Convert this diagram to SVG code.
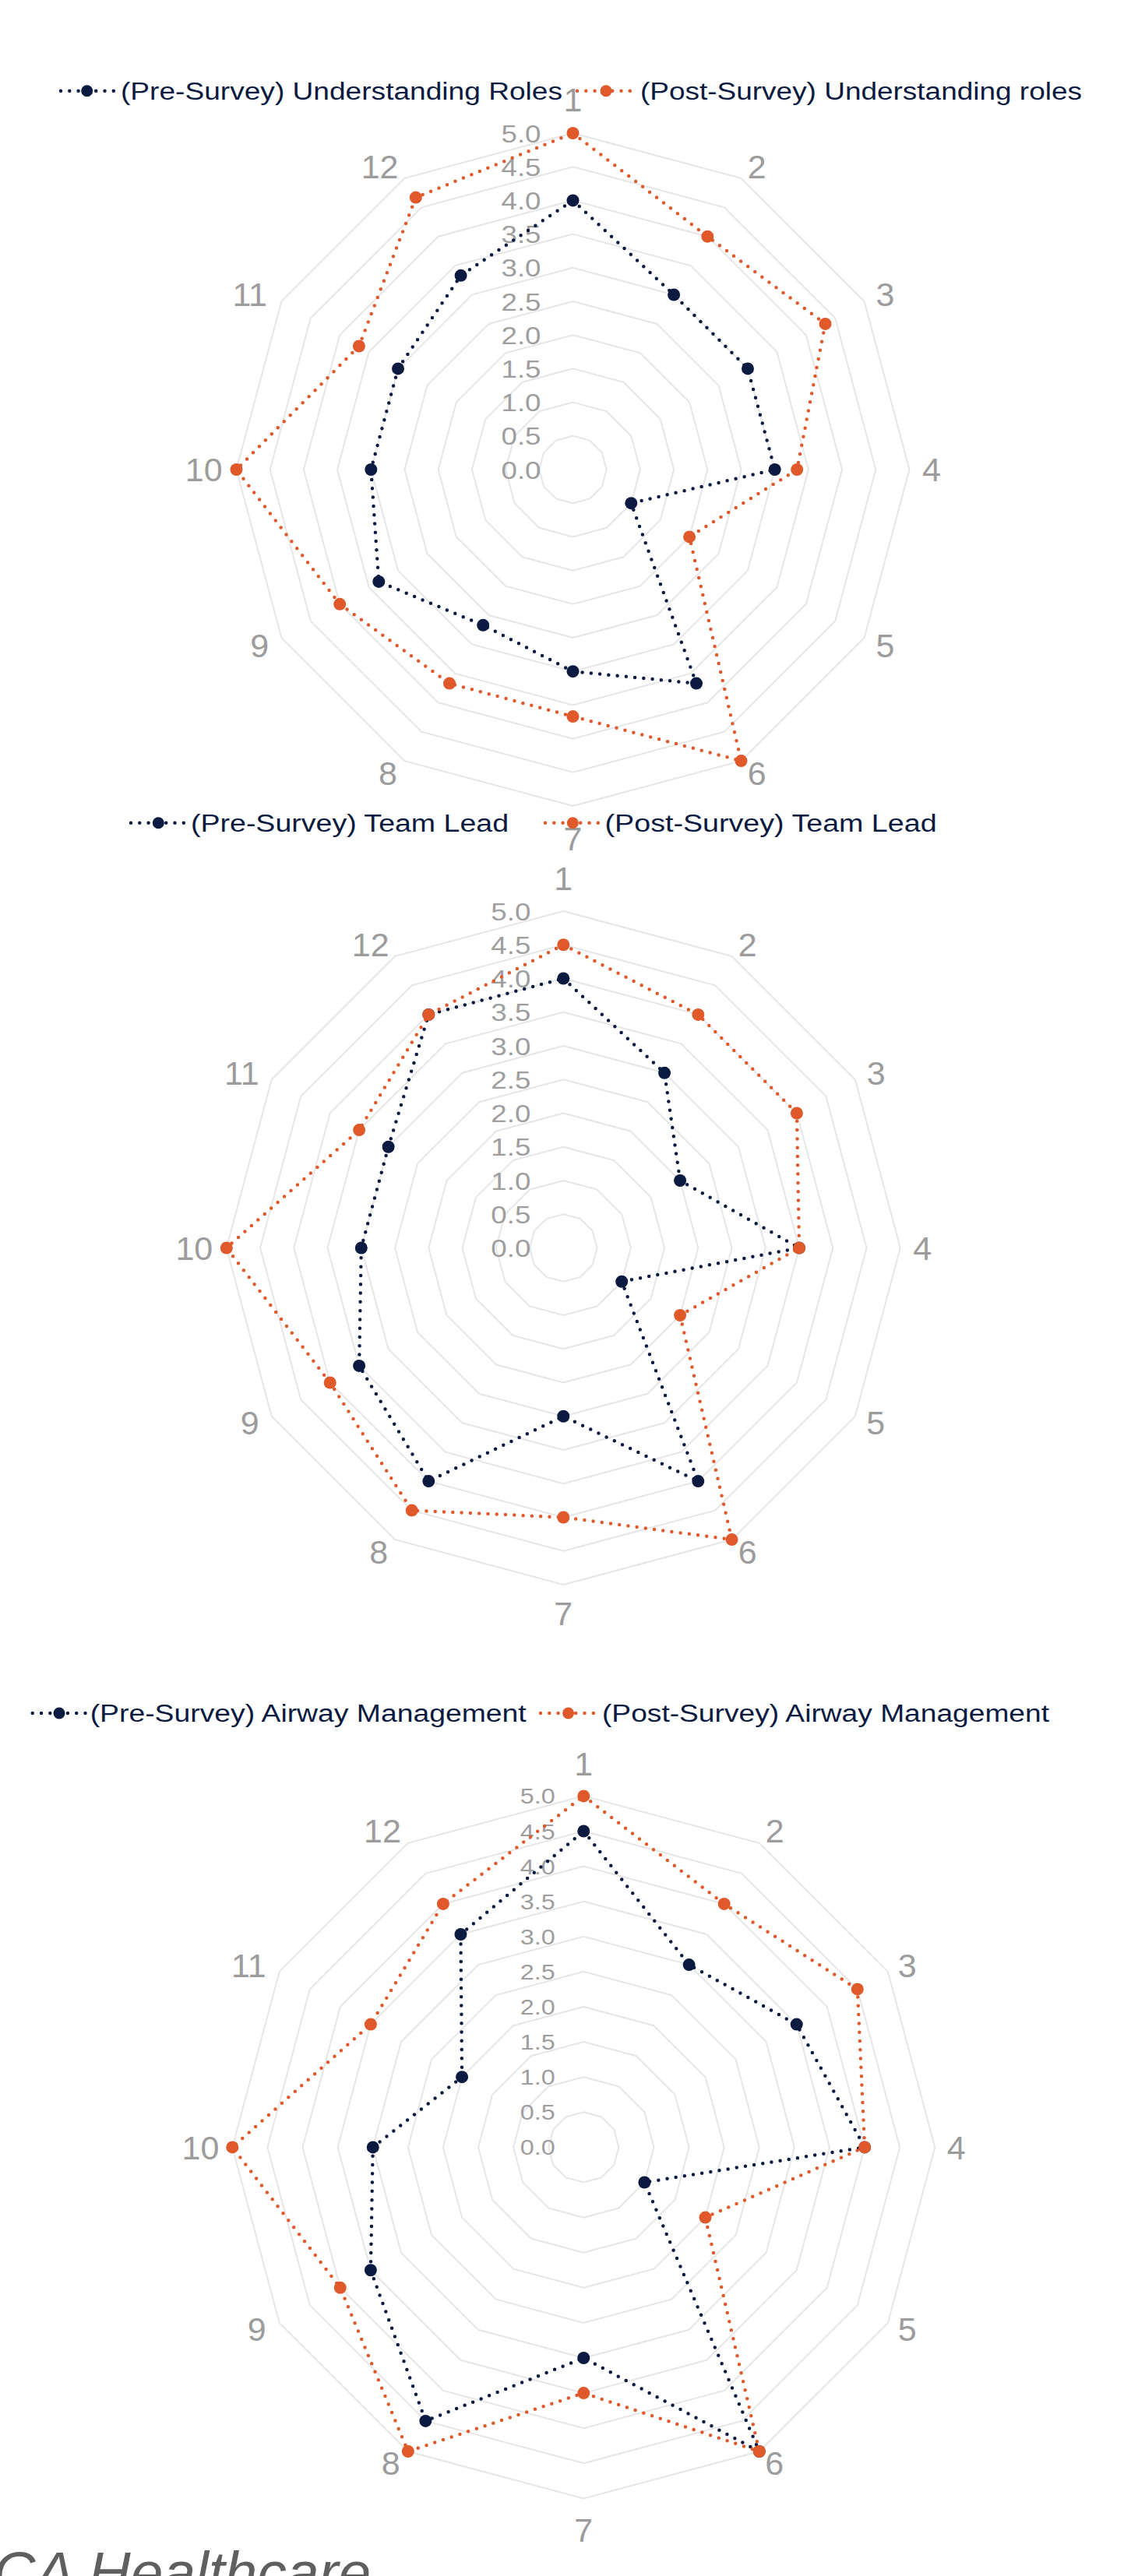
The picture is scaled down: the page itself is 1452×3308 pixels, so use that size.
<svg xmlns="http://www.w3.org/2000/svg" xmlns:xlink="http://www.w3.org/1999/xlink" width="1452" height="3308" viewBox="0 0 1452 3308">
<style>
.grid{fill:none;stroke:#e6e6e6}
.tick{font-family:"Liberation Sans",Arial,sans-serif;fill:#9e9e9e;text-anchor:end}
.t12{font-size:32px}
.t3{font-size:28px}
.ang{font-family:"Liberation Sans",Arial,sans-serif;font-size:43px;fill:#9c9c9c;text-anchor:middle}
.pre{fill:none;stroke:#0b1a40;stroke-width:4.5;stroke-dasharray:0 11.3;stroke-linecap:round;stroke-linejoin:round}
.post{fill:none;stroke:#e0592a;stroke-width:4.5;stroke-dasharray:0 11.3;stroke-linecap:round;stroke-linejoin:round}
.mpre{fill:#0b1a40}
.mpost{fill:#e0592a}
.leg{font-family:"Liberation Sans",Arial,sans-serif;font-size:31px;fill:#0b1a40}
.foot{font-family:"Liberation Sans",Arial,sans-serif;font-size:75px;font-style:italic;fill:#5f5f5f}
</style>
<defs>
<polygon id="g12" points="0,-100 50,-86.603 86.603,-50 100,0 86.603,50 50,86.603 0,100 -50,86.603 -86.603,50 -100,0 -86.603,-50 -50,-86.603"/>
</defs>
<rect width="1452" height="3308" fill="#ffffff"/>

<!-- Chart 1 -->
<g id="chart1" transform="translate(735.5,603)">
<g class="grid">
<use xlink:href="#g12" transform="scale(0.432)" stroke-width="4.63"/>
<use xlink:href="#g12" transform="scale(0.864)" stroke-width="2.315"/>
<use xlink:href="#g12" transform="scale(1.296)" stroke-width="1.543"/>
<use xlink:href="#g12" transform="scale(1.728)" stroke-width="1.157"/>
<use xlink:href="#g12" transform="scale(2.16)" stroke-width="0.926"/>
<use xlink:href="#g12" transform="scale(2.592)" stroke-width="0.772"/>
<use xlink:href="#g12" transform="scale(3.024)" stroke-width="0.661"/>
<use xlink:href="#g12" transform="scale(3.456)" stroke-width="0.579"/>
<use xlink:href="#g12" transform="scale(3.888)" stroke-width="0.514"/>
<use xlink:href="#g12" transform="scale(4.32)" stroke-width="0.463"/>
</g>
<g class="tick t12">
<text x="-41" y="11.5" textLength="51" lengthAdjust="spacingAndGlyphs">0.0</text>
<text x="-41" y="-31.7" textLength="51" lengthAdjust="spacingAndGlyphs">0.5</text>
<text x="-41" y="-74.9" textLength="51" lengthAdjust="spacingAndGlyphs">1.0</text>
<text x="-41" y="-118.1" textLength="51" lengthAdjust="spacingAndGlyphs">1.5</text>
<text x="-41" y="-161.3" textLength="51" lengthAdjust="spacingAndGlyphs">2.0</text>
<text x="-41" y="-204.5" textLength="51" lengthAdjust="spacingAndGlyphs">2.5</text>
<text x="-41" y="-247.7" textLength="51" lengthAdjust="spacingAndGlyphs">3.0</text>
<text x="-41" y="-290.9" textLength="51" lengthAdjust="spacingAndGlyphs">3.5</text>
<text x="-41" y="-334.1" textLength="51" lengthAdjust="spacingAndGlyphs">4.0</text>
<text x="-41" y="-377.3" textLength="51" lengthAdjust="spacingAndGlyphs">4.5</text>
<text x="-41" y="-420.5" textLength="51" lengthAdjust="spacingAndGlyphs">5.0</text>
</g>
<g class="ang">
<text x="0" y="-460.5">1</text>
<text x="236.2" y="-373.6">2</text>
<text x="401" y="-210">3</text>
<text x="460.5" y="15.4">4</text>
<text x="401" y="241.4">5</text>
<text x="236.2" y="405.1">6</text>
<text x="0" y="489.4">7</text>
<text x="-237.5" y="405.1">8</text>
<text x="-402.2" y="241.4">9</text>
<text x="-473.8" y="15.4">10</text>
<text x="-414.8" y="-210">11</text>
<text x="-247.9" y="-373.6">12</text>
</g>
<g id="c1-pre">
<polygon class="pre" points="0,-345.6 129.6,-224.5 224.5,-129.6 259.2,0 74.8,43.2 158.5,274.6 0,259.2 -115.3,199.8 -249.2,143.9 -259.2,0 -224.5,-129.6 -143.9,-249.2"/>
<g class="mpre">
<circle cx="0" cy="-345.6" r="8"/><circle cx="129.6" cy="-224.5" r="8"/><circle cx="224.5" cy="-129.6" r="8"/><circle cx="259.2" cy="0" r="8"/><circle cx="74.8" cy="43.2" r="8"/><circle cx="158.5" cy="274.6" r="8"/><circle cx="0" cy="259.2" r="8"/><circle cx="-115.3" cy="199.8" r="8"/><circle cx="-249.2" cy="143.9" r="8"/><circle cx="-259.2" cy="0" r="8"/><circle cx="-224.5" cy="-129.6" r="8"/><circle cx="-143.9" cy="-249.2" r="8"/>
</g>
</g>
<g id="c1-post">
<polygon class="post" points="0,-432 172.8,-299.3 324,-187.1 287.7,0 149.6,86.4 216,374.1 0,317.1 -158.5,274.6 -299.3,172.8 -432,0 -274.6,-158.5 -201.7,-349.4"/>
<g class="mpost">
<circle cx="0" cy="-432" r="8"/><circle cx="172.8" cy="-299.3" r="8"/><circle cx="324" cy="-187.1" r="8"/><circle cx="287.7" cy="0" r="8"/><circle cx="149.6" cy="86.4" r="8"/><circle cx="216" cy="374.1" r="8"/><circle cx="0" cy="317.1" r="8"/><circle cx="-158.5" cy="274.6" r="8"/><circle cx="-299.3" cy="172.8" r="8"/><circle cx="-432" cy="0" r="8"/><circle cx="-274.6" cy="-158.5" r="8"/><circle cx="-201.7" cy="-349.4" r="8"/>
</g>
</g>
</g>

<!-- Chart 2 -->
<g id="chart2" transform="translate(723.3,1602.5)">
<g class="grid">
<use xlink:href="#g12" transform="scale(0.4325)" stroke-width="4.624"/>
<use xlink:href="#g12" transform="scale(0.865)" stroke-width="2.312"/>
<use xlink:href="#g12" transform="scale(1.2975)" stroke-width="1.541"/>
<use xlink:href="#g12" transform="scale(1.73)" stroke-width="1.156"/>
<use xlink:href="#g12" transform="scale(2.1625)" stroke-width="0.925"/>
<use xlink:href="#g12" transform="scale(2.595)" stroke-width="0.771"/>
<use xlink:href="#g12" transform="scale(3.0275)" stroke-width="0.661"/>
<use xlink:href="#g12" transform="scale(3.46)" stroke-width="0.578"/>
<use xlink:href="#g12" transform="scale(3.8925)" stroke-width="0.514"/>
<use xlink:href="#g12" transform="scale(4.325)" stroke-width="0.462"/>
</g>
<g class="tick t12">
<text x="-42" y="11.5" textLength="51" lengthAdjust="spacingAndGlyphs">0.0</text>
<text x="-42" y="-31.75" textLength="51" lengthAdjust="spacingAndGlyphs">0.5</text>
<text x="-42" y="-75" textLength="51" lengthAdjust="spacingAndGlyphs">1.0</text>
<text x="-42" y="-118.25" textLength="51" lengthAdjust="spacingAndGlyphs">1.5</text>
<text x="-42" y="-161.5" textLength="51" lengthAdjust="spacingAndGlyphs">2.0</text>
<text x="-42" y="-204.75" textLength="51" lengthAdjust="spacingAndGlyphs">2.5</text>
<text x="-42" y="-248" textLength="51" lengthAdjust="spacingAndGlyphs">3.0</text>
<text x="-42" y="-291.25" textLength="51" lengthAdjust="spacingAndGlyphs">3.5</text>
<text x="-42" y="-334.5" textLength="51" lengthAdjust="spacingAndGlyphs">4.0</text>
<text x="-42" y="-377.75" textLength="51" lengthAdjust="spacingAndGlyphs">4.5</text>
<text x="-42" y="-421" textLength="51" lengthAdjust="spacingAndGlyphs">5.0</text>
</g>
<g class="ang">
<text x="0" y="-460">1</text>
<text x="236.4" y="-374.6">2</text>
<text x="401.3" y="-209.1">3</text>
<text x="460.9" y="15.4">4</text>
<text x="401" y="239.9">5</text>
<text x="236.4" y="405.2">6</text>
<text x="0" y="484.2">7</text>
<text x="-237" y="405.2">8</text>
<text x="-402.6" y="239.9">9</text>
<text x="-474" y="15.4">10</text>
<text x="-413" y="-209.1">11</text>
<text x="-247.6" y="-374.6">12</text>
</g>
<g id="c2-pre">
<polygon class="pre" points="0,-346 129.75,-224.7 149.8,-86.5 302.75,0 74.9,43.25 173,299.6 0,216.25 -173,299.6 -262.2,151.4 -259.5,0 -224.7,-129.75 -173,-299.6"/>
<g class="mpre">
<circle cx="0" cy="-346" r="8"/><circle cx="129.75" cy="-224.7" r="8"/><circle cx="149.8" cy="-86.5" r="8"/><circle cx="302.75" cy="0" r="8"/><circle cx="74.9" cy="43.25" r="8"/><circle cx="173" cy="299.6" r="8"/><circle cx="0" cy="216.25" r="8"/><circle cx="-173" cy="299.6" r="8"/><circle cx="-262.2" cy="151.4" r="8"/><circle cx="-259.5" cy="0" r="8"/><circle cx="-224.7" cy="-129.75" r="8"/><circle cx="-173" cy="-299.6" r="8"/>
</g>
</g>
<g id="c2-post">
<polygon class="post" points="0,-389.25 173,-299.6 299.6,-173 302.75,0 149.8,86.5 216.25,374.6 0,346 -194.6,337.1 -299.6,173 -432.5,0 -262.2,-151.4 -173,-299.6"/>
<g class="mpost">
<circle cx="0" cy="-389.25" r="8"/><circle cx="173" cy="-299.6" r="8"/><circle cx="299.6" cy="-173" r="8"/><circle cx="302.75" cy="0" r="8"/><circle cx="149.8" cy="86.5" r="8"/><circle cx="216.25" cy="374.6" r="8"/><circle cx="0" cy="346" r="8"/><circle cx="-194.6" cy="337.1" r="8"/><circle cx="-299.6" cy="173" r="8"/><circle cx="-432.5" cy="0" r="8"/><circle cx="-262.2" cy="-151.4" r="8"/><circle cx="-173" cy="-299.6" r="8"/>
</g>
</g>
</g>

<!-- Chart 3 -->
<g id="chart3" transform="translate(749.3,2757.4)">
<g class="grid">
<use xlink:href="#g12" transform="scale(0.451)" stroke-width="4.435"/>
<use xlink:href="#g12" transform="scale(0.902)" stroke-width="2.217"/>
<use xlink:href="#g12" transform="scale(1.353)" stroke-width="1.478"/>
<use xlink:href="#g12" transform="scale(1.804)" stroke-width="1.109"/>
<use xlink:href="#g12" transform="scale(2.255)" stroke-width="0.887"/>
<use xlink:href="#g12" transform="scale(2.706)" stroke-width="0.739"/>
<use xlink:href="#g12" transform="scale(3.157)" stroke-width="0.634"/>
<use xlink:href="#g12" transform="scale(3.608)" stroke-width="0.554"/>
<use xlink:href="#g12" transform="scale(4.059)" stroke-width="0.493"/>
<use xlink:href="#g12" transform="scale(4.51)" stroke-width="0.443"/>
</g>
<g class="tick t3">
<text x="-36.5" y="10" textLength="45" lengthAdjust="spacingAndGlyphs">0.0</text>
<text x="-36.5" y="-35.1" textLength="45" lengthAdjust="spacingAndGlyphs">0.5</text>
<text x="-36.5" y="-80.2" textLength="45" lengthAdjust="spacingAndGlyphs">1.0</text>
<text x="-36.5" y="-125.3" textLength="45" lengthAdjust="spacingAndGlyphs">1.5</text>
<text x="-36.5" y="-170.4" textLength="45" lengthAdjust="spacingAndGlyphs">2.0</text>
<text x="-36.5" y="-215.5" textLength="45" lengthAdjust="spacingAndGlyphs">2.5</text>
<text x="-36.5" y="-260.6" textLength="45" lengthAdjust="spacingAndGlyphs">3.0</text>
<text x="-36.5" y="-305.7" textLength="45" lengthAdjust="spacingAndGlyphs">3.5</text>
<text x="-36.5" y="-350.8" textLength="45" lengthAdjust="spacingAndGlyphs">4.0</text>
<text x="-36.5" y="-395.9" textLength="45" lengthAdjust="spacingAndGlyphs">4.5</text>
<text x="-36.5" y="-441" textLength="45" lengthAdjust="spacingAndGlyphs">5.0</text>
</g>
<g class="ang">
<text x="0" y="-477.2">1</text>
<text x="245.5" y="-391">2</text>
<text x="415.3" y="-218.7">3</text>
<text x="478.4" y="15.4">4</text>
<text x="415.3" y="249">5</text>
<text x="244.8" y="421.1">6</text>
<text x="0" y="506.6">7</text>
<text x="-247.7" y="421.1">8</text>
<text x="-419.5" y="249">9</text>
<text x="-491.8" y="15.4">10</text>
<text x="-430" y="-218.7">11</text>
<text x="-258.3" y="-391">12</text>
</g>
<g id="c3-pre">
<polygon class="pre" points="0,-405.9 135.3,-234.3 273.4,-157.85 360.8,0 78.1,45.1 225.5,390.6 0,270.6 -202.95,351.5 -273.4,157.85 -270.6,0 -156.2,-90.2 -157.85,-273.4"/>
<g class="mpre">
<circle cx="0" cy="-405.9" r="8"/><circle cx="135.3" cy="-234.3" r="8"/><circle cx="273.4" cy="-157.85" r="8"/><circle cx="360.8" cy="0" r="8"/><circle cx="78.1" cy="45.1" r="8"/><circle cx="225.5" cy="390.6" r="8"/><circle cx="0" cy="270.6" r="8"/><circle cx="-202.95" cy="351.5" r="8"/><circle cx="-273.4" cy="157.85" r="8"/><circle cx="-270.6" cy="0" r="8"/><circle cx="-156.2" cy="-90.2" r="8"/><circle cx="-157.85" cy="-273.4" r="8"/>
</g>
</g>
<g id="c3-post">
<polygon class="post" points="0,-451 180.4,-312.5 351.5,-202.95 360.8,0 156.2,90.2 225.5,390.6 0,315.7 -225.5,390.6 -312.5,180.4 -451,0 -273.4,-157.85 -180.4,-312.5"/>
<g class="mpost">
<circle cx="0" cy="-451" r="8"/><circle cx="180.4" cy="-312.5" r="8"/><circle cx="351.5" cy="-202.95" r="8"/><circle cx="360.8" cy="0" r="8"/><circle cx="156.2" cy="90.2" r="8"/><circle cx="225.5" cy="390.6" r="8"/><circle cx="0" cy="315.7" r="8"/><circle cx="-225.5" cy="390.6" r="8"/><circle cx="-312.5" cy="180.4" r="8"/><circle cx="-451" cy="0" r="8"/><circle cx="-273.4" cy="-157.85" r="8"/><circle cx="-180.4" cy="-312.5" r="8"/>
</g>
</g>
</g>

<!-- Legends -->
<g id="legend1">
<line class="pre" x1="78" y1="116.7" x2="148" y2="116.7"/>
<circle class="mpre" cx="111.7" cy="116.7" r="7.5"/>
<text class="leg" x="155" y="128" textLength="567" lengthAdjust="spacingAndGlyphs">(Pre-Survey) Understanding Roles</text>
<line class="post" x1="741" y1="116.7" x2="815" y2="116.7"/>
<circle class="mpost" cx="778" cy="116.7" r="7.5"/>
<text class="leg" x="822" y="128" textLength="567" lengthAdjust="spacingAndGlyphs">(Post-Survey) Understanding roles</text>
</g>
<g id="legend2">
<line class="pre" x1="168" y1="1056.7" x2="238" y2="1056.7"/>
<circle class="mpre" cx="203.3" cy="1056.7" r="7.5"/>
<text class="leg" x="245" y="1067.5" textLength="408" lengthAdjust="spacingAndGlyphs">(Pre-Survey) Team Lead</text>
<line class="post" x1="700" y1="1056.7" x2="768" y2="1056.7"/>
<circle class="mpost" cx="735.3" cy="1056.7" r="7.5"/>
<text class="leg" x="776.6" y="1067.5" textLength="426" lengthAdjust="spacingAndGlyphs">(Post-Survey) Team Lead</text>
</g>
<g id="legend3">
<line class="pre" x1="41.7" y1="2200" x2="111" y2="2200"/>
<circle class="mpre" cx="76" cy="2200" r="7.5"/>
<text class="leg" x="115.7" y="2211" textLength="560" lengthAdjust="spacingAndGlyphs">(Pre-Survey) Airway Management</text>
<line class="post" x1="694" y1="2200" x2="764" y2="2200"/>
<circle class="mpost" cx="729.6" cy="2200" r="7.5"/>
<text class="leg" x="773" y="2211" textLength="574" lengthAdjust="spacingAndGlyphs">(Post-Survey) Airway Management</text>
</g>

<text id="footer" class="foot" x="-29.6" y="3328.7">ICA Healthcare</text>
</svg>
